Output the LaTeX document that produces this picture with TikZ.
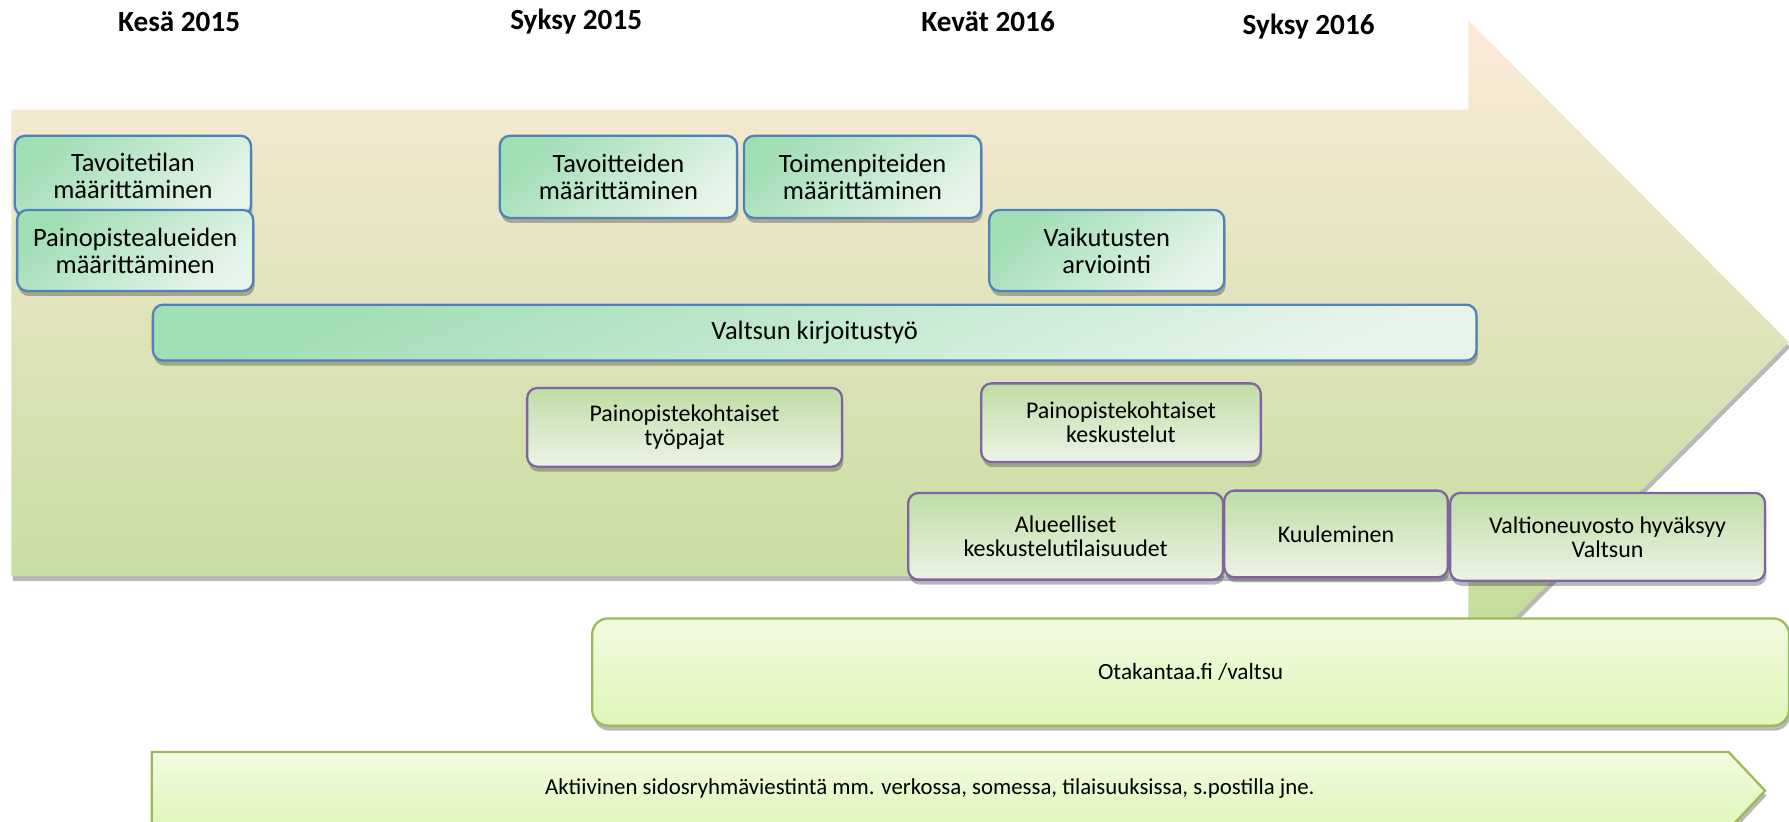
\documentclass[tikz,border=0pt]{standalone}
\usepackage{fontspec}
\setmainfont{Carlito}
\usetikzlibrary{shadows}
\definecolor{arrTop}{RGB}{251,234,216}
\definecolor{arrBot}{RGB}{192,220,152}
\definecolor{bbA}{RGB}{160,222,180}
\definecolor{bbB}{RGB}{230,244,234}
\definecolor{bbLine}{RGB}{79,129,189}
\definecolor{pbA}{RGB}{190,221,166}
\definecolor{pbB}{RGB}{237,243,230}
\definecolor{pbLine}{RGB}{128,100,162}
\definecolor{ybA}{RGB}{243,251,226}
\definecolor{ybB}{RGB}{222,245,182}
\definecolor{ybLine}{RGB}{155,187,89}
\tikzset{
  title/.style={font=\fontsize{12.8}{14}\selectfont\bfseries, inner sep=0pt},
  shad/.style={drop shadow={shadow xshift=0.6pt, shadow yshift=-2.2pt, opacity=0.35, fill=black!80}},
  bbox/.style={shad, draw=bbLine, line width=1pt, rounded corners=4.5pt,
     top color=bbA, bottom color=bbB, shading angle=40,
     anchor=north west, inner sep=0pt, align=center,
     font=\fontsize{11.6}{11.8}\selectfont},
  pbox/.style={shad, draw=pbLine, line width=1pt, rounded corners=4.5pt,
     top color=pbA, bottom color=pbB,
     anchor=north west, inner sep=0pt, align=center,
     font=\fontsize{10.5}{10.5}\selectfont},
  ybox/.style={shad, draw=ybLine, line width=1pt, rounded corners=7pt,
     top color=ybA, bottom color=ybB,
     anchor=north west, inner sep=0pt, align=center,
     font=\fontsize{10.2}{11}\selectfont},
  lbl/.style={inner sep=0pt, align=center, font=\fontsize{10}{11}\selectfont}
}
\begin{document}
\begin{tikzpicture}[x=0.5pt,y=-0.5pt]
\useasboundingbox (0,0) rectangle (1568,720);
% big timeline arrow
\path[shad, top color=arrTop, bottom color=arrBot]
  (10,96) -- (1287,96) -- (1287,18) -- (1568,300) -- (1287,582) -- (1287,505) -- (10,505) -- cycle;
% titles
\node[title] (t1) at (157,19) {Kesä 2015};
\node[title] (t2) at (505,19) {Syksy 2015};
\node[title] (t3) at (866,19) {Kevät 2016};
\node[title] (t4) at (1147,23) {Syksy 2016};
% blue boxes
\node[bbox, minimum width={(219-12)*0.5pt}, minimum height={(188-118)*0.5pt}] (b1) at (12,118) {Tavoitetilan\\määrittäminen};
\node[bbox, minimum width={(221-14)*0.5pt}, minimum height={(254-183)*0.5pt}] (b2) at (14,183) {Painopistealueiden\\määrittäminen};
\node[bbox, minimum width={(645-437)*0.5pt}, minimum height={(190-118)*0.5pt}] (b3) at (437,118) {Tavoitteiden\\määrittäminen};
\node[bbox, minimum width={(859-651)*0.5pt}, minimum height={(190-118)*0.5pt}] (b4) at (651,118) {Toimenpiteiden\\määrittäminen};
\node[bbox, minimum width={(1072-866)*0.5pt}, minimum height={(254-183)*0.5pt}] (b5) at (866,183) {Vaikutusten\\arviointi};
\node[bbox, minimum width={(1293-133)*0.5pt}, minimum height={(315-266)*0.5pt}, shading angle=25] (b6) at (133,266) {Valtsun kirjoitustyö};
% purple boxes
\node[pbox, minimum width={(737-461)*0.5pt}, minimum height={(408-339)*0.5pt}] (p1) at (461,339) {Painopistekohtaiset\\työpajat};
\node[pbox, minimum width={(1104-859)*0.5pt}, minimum height={(404-335)*0.5pt}] (p2) at (859,335) {Painopistekohtaiset\\keskustelut};
\node[pbox, minimum width={(1071-795)*0.5pt}, minimum height={(507-431)*0.5pt}] (p3) at (795,431) {Alueelliset\\keskustelutilaisuudet};
\node[pbox, minimum width={(1268-1072)*0.5pt}, minimum height={(505-429)*0.5pt}] (p4) at (1072,429) {Kuuleminen};
\node[pbox, minimum width={(1546-1270)*0.5pt}, minimum height={(508-431)*0.5pt}] (p5) at (1270,431) {Valtioneuvosto hyväksyy\\Valtsun};
% Otakantaa box
\node[ybox, minimum width={(1567-518)*0.5pt}, minimum height={(635-541)*0.5pt}] (o1) at (518,541) {Otakantaa.fi /valtsu};
% bottom arrow
\path[shad, draw=ybLine, line width=1pt, top color=ybA, bottom color=ybB]
  (133,659) -- (1515,659) -- (1547,693) -- (1515,727) -- (133,727) -- cycle;
\node[lbl] (a1) at (815,691) {Aktiivinen sidosryhmäviestintä mm. verkossa, somessa, tilaisuuksissa, s.postilla jne.};
\end{tikzpicture}
\end{document}
